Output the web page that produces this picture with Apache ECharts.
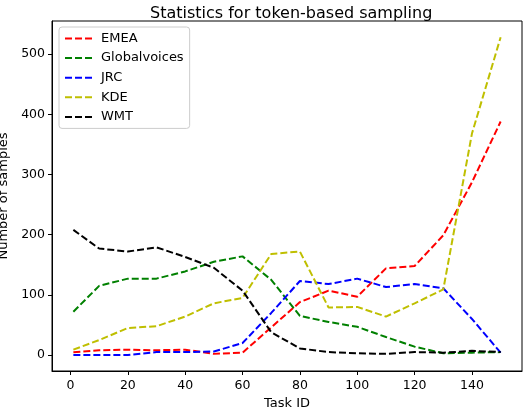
<!DOCTYPE html>
<html>
<head>
<meta charset="utf-8">
<script src="https://cdn.jsdelivr.net/npm/echarts@6/dist/echarts.min.js"></script>
<style>
  html, body { margin: 0; padding: 0; background: #fff; }
  #chart { width: 524px; height: 410px; }
</style>
</head>
<body>
<div id="chart"></div>
<script>
var taskIds = [1, 10, 20, 30, 40, 50, 60, 70, 80, 90, 100, 110, 120, 130, 140, 150];
var emea = [4.5, 8, 9, 8, 9, 2, 4, 46, 88, 107, 97, 144, 148, 199, 287, 388];
var globalvoices = [72, 115, 127, 127, 139, 155, 164, 125, 65, 55, 47, 30, 14, 3, 4, 5];
var jrc = [0, 0, 0, 5, 5, 6, 20, 70, 123, 118, 127, 113, 118, 111, 60, 4];
var kde = [9, 25, 45, 48, 64, 86, 95, 168, 172, 79, 80, 64, 86, 109, 368, 528];
var wmt = [208, 177, 172, 179, 163, 145, 107, 38, 11, 5, 3, 2, 5, 4, 7, 5];

var xTicks = [0, 20, 40, 60, 80, 100, 120, 140];
var yTicks = [0, 100, 200, 300, 400, 500];

var seriesNames = ['EMEA', 'Globalvoices', 'JRC', 'KDE', 'WMT'];
var seriesValues = [emea, globalvoices, jrc, kde, wmt];
var seriesColors = ['#ff0000', '#008000', '#0000ff', '#bfbf00', '#000000'];

var font = 'DejaVu Sans';

function pairs(values) {
    return taskIds.map(function (x, i) { return [x, values[i]]; });
}

var chart = echarts.init(document.getElementById('chart'), null, {renderer: 'canvas'});

var option = {
    animation: false,
    backgroundColor: '#fff',
    title: {
        text: 'Statistics for token-based sampling',
        left: 145,
        top: 1,
        textStyle: {fontFamily: font, fontSize: 16, fontWeight: 'normal', color: '#000'}
    },
    legend: {
        orient: 'vertical',
        left: 59,
        top: 27,
        padding: [4, 6, 4, 5],
        itemWidth: 27,
        itemHeight: 14,
        itemGap: 4.6,
        borderColor: '#cccccc',
        borderWidth: 1,
        borderRadius: 3,
        backgroundColor: 'rgba(255,255,255,0.8)',
        itemStyle: {opacity: 0},
        textStyle: {fontFamily: font, fontSize: 13, color: '#000', padding: [0, 0, 0, 4], lineHeight: 15},
        data: seriesNames
    },
    grid: {
        left: 52, right: 2, top: 21, bottom: 39,
        outerBoundsMode: 'none',
        containLabel: false,
        show: true, borderColor: '#000', borderWidth: 1, backgroundColor: 'transparent'
    },
    xAxis: {
        type: 'value',
        min: -6.45,
        max: 157.45,
        name: 'Task ID',
        nameLocation: 'middle',
        nameGap: 21,
        nameTextStyle: {fontFamily: font, fontSize: 13, color: '#000'},
        axisLine: {show: true, onZero: false, lineStyle: {color: '#000', width: 1}},
        axisTick: {show: true, inside: false, length: 4, customValues: xTicks, lineStyle: {color: '#000'}},
        axisLabel: {customValues: xTicks, margin: 8, fontFamily: font, fontSize: 12.5, color: '#000'},
        splitLine: {show: false}
    },
    yAxis: {
        type: 'value',
        min: -26.45,
        max: 555,
        name: 'Number of samples',
        nameLocation: 'middle',
        nameGap: 37,
        nameTextStyle: {fontFamily: font, fontSize: 13, color: '#000'},
        axisLine: {show: true, onZero: false, lineStyle: {color: '#000', width: 1}},
        axisTick: {show: true, inside: false, length: 4, customValues: yTicks, lineStyle: {color: '#000'}},
        axisLabel: {customValues: yTicks, margin: 7, fontFamily: font, fontSize: 12.5, color: '#000'},
        splitLine: {show: false}
    },
    series: seriesNames.map(function (name, i) {
        return {
            name: name,
            type: 'line',
            symbol: 'none',
            data: pairs(seriesValues[i]),
            color: seriesColors[i],
            lineStyle: {color: seriesColors[i], width: 2, type: [7, 3]}
        };
    })
};

chart.setOption(option);
</script>
</body>
</html>
